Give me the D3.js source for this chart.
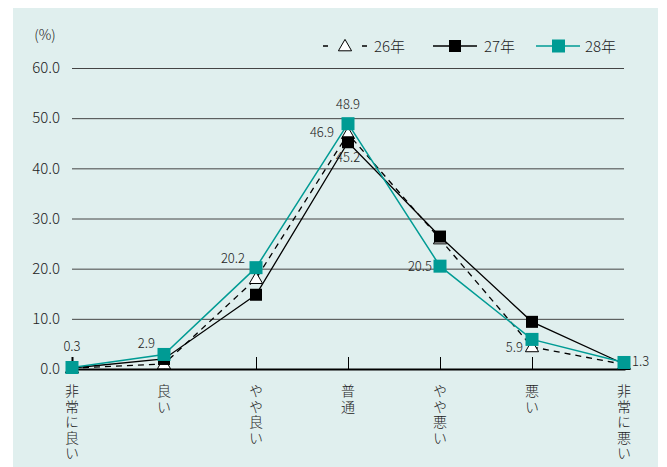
<!DOCTYPE html>
<html>
<head>
<meta charset="utf-8">
<style>
  body { margin: 0; background: #fff; }
  text { font-family: "Noto Sans CJK JP", "Noto Sans", sans-serif; fill: #222; }
</style>
</head>
<body>
<div id="chart"></div>
<script src="https://d3js.org/d3.v7.min.js"></script>
<script>
var categories = ["非常に良い", "良い", "やや良い", "普通", "やや悪い", "悪い", "非常に悪い"];
var yTicks = [0, 10, 20, 30, 40, 50, 60];
var seriesNames = ["26年", "27年", "28年"];
var values26 = [0.2, 1.0, 18.0, 46.9, 25.9, 4.4, 0.9];
var values27 = [0.2, 2.0, 14.8, 45.2, 26.4, 9.4, 1.0];
var values28 = [0.3, 2.9, 20.2, 48.9, 20.5, 5.9, 1.3];

var teal = "#009b94";

var svg = d3.select("#chart")
    .append("svg")
    .attr("width", 667)
    .attr("height", 467);

svg.append("rect")
    .attr("x", 13).attr("y", 8)
    .attr("width", 645).attr("height", 459)
    .attr("fill", "#e0efee");

var x = d3.scalePoint().domain(categories).range([72, 624]);
var y = d3.scaleLinear().domain([0, 60]).range([369, 68]);

// grid + y labels
var yAxis = svg.append("g")
    .attr("transform", "translate(72,0)")
    .call(d3.axisLeft(y).tickValues(yTicks).tickSize(-552).tickPadding(12).tickFormat(d3.format(".1f")));
yAxis.select(".domain").remove();
yAxis.selectAll(".tick line").attr("stroke", "#444").attr("stroke-width", 1);
yAxis.selectAll(".tick text").style("font-size", "15px").style("font-weight", 300).attr("fill", "#222");

svg.append("text")
    .attr("x", 45).attr("y", 40)
    .attr("text-anchor", "middle")
    .style("font-size", "14px")
    .style("font-weight", 300)
    .text("(%)");

// x axis
var xAxis = svg.append("g")
    .attr("transform", "translate(0,369)")
    .call(d3.axisBottom(x).tickSize(-12).tickFormat(""));
xAxis.select(".domain").attr("stroke", "#000").attr("stroke-width", 2);
xAxis.selectAll(".tick line").attr("stroke", "#000");

svg.selectAll(".xlab")
    .data(categories)
    .enter()
    .append("text")
    .attr("class", "xlab")
    .attr("x", function(d) { return x(d); })
    .attr("y", 384)
    .attr("writing-mode", "vertical-rl")
    .style("text-orientation", "upright")
    .style("letter-spacing", "1.5px")
    .style("font-size", "14px")
    .style("font-weight", 300)
    .text(function(d) { return d; });

var line = d3.line()
    .x(function(d, i) { return x(categories[i]); })
    .y(function(d) { return y(d); });

svg.append("path").datum(values26)
    .attr("d", line).attr("fill", "none")
    .attr("stroke", "#000").attr("stroke-width", 1.3)
    .attr("stroke-dasharray", "6,5");
svg.append("path").datum(values27)
    .attr("d", line).attr("fill", "none")
    .attr("stroke", "#000").attr("stroke-width", 1.3);
svg.append("path").datum(values28)
    .attr("d", line).attr("fill", "none")
    .attr("stroke", teal).attr("stroke-width", 1.5);

// data labels
var labels = [
    { v: values28, i: 0, dx: 0, dy: -16, a: "middle" },
    { v: values28, i: 1, dx: -9, dy: -6, a: "end" },
    { v: values28, i: 2, dx: -11, dy: -5, a: "end" },
    { v: values28, i: 3, dx: 0, dy: -15, a: "middle" },
    { v: values26, i: 3, dx: -14, dy: 3, a: "end" },
    { v: values27, i: 3, dx: -12, dy: 20, a: "start" },
    { v: values28, i: 4, dx: -8, dy: 5, a: "end" },
    { v: values28, i: 5, dx: -9, dy: 13, a: "end" },
    { v: values28, i: 6, dx: 8, dy: 4, a: "start" }
];
svg.selectAll(".dlab")
    .data(labels)
    .enter()
    .append("text")
    .attr("class", "dlab")
    .attr("x", function(d) { return x(categories[d.i]) + d.dx; })
    .attr("y", function(d) { return y(d.v[d.i]) + d.dy; })
    .attr("text-anchor", function(d) { return d.a; })
    .style("font-size", "13px")
    .style("font-weight", 300)
    .attr("fill", "#333")
    .text(function(d) { return d.v[d.i].toFixed(1); });

var tri = d3.symbol().type(d3.symbolTriangle).size(75);

svg.selectAll(".m26")
    .data(values26)
    .enter()
    .append("path")
    .attr("class", "m26")
    .attr("d", tri)
    .attr("transform", function(d, i) { return "translate(" + x(categories[i]) + "," + (y(d) + 1) + ")"; })
    .attr("fill", "#fff").attr("stroke", "#000").attr("stroke-width", 1);

svg.selectAll(".m27")
    .data(values27)
    .enter()
    .append("rect")
    .attr("class", "m27")
    .attr("x", function(d, i) { return x(categories[i]) - 6; })
    .attr("y", function(d) { return y(d) - 6; })
    .attr("width", 12).attr("height", 12)
    .attr("fill", "#000");

svg.selectAll(".m28")
    .data(values28)
    .enter()
    .append("rect")
    .attr("class", "m28")
    .attr("x", function(d, i) { return x(categories[i]) - 6.5; })
    .attr("y", function(d) { return y(d) - 6.5; })
    .attr("width", 13).attr("height", 13)
    .attr("fill", teal);

// legend
var lg = svg.append("g").attr("transform", "translate(0,46)");
lg.append("line").attr("x1", 323).attr("x2", 367)
    .attr("stroke", "#000").attr("stroke-width", 1.3).attr("stroke-dasharray", "5,34");
lg.append("path").attr("d", tri).attr("transform", "translate(345,1)")
    .attr("fill", "#fff").attr("stroke", "#000");
lg.append("line").attr("x1", 433).attr("x2", 477)
    .attr("stroke", "#000").attr("stroke-width", 1.3);
lg.append("rect").attr("x", 449).attr("y", -6).attr("width", 12).attr("height", 12).attr("fill", "#000");
lg.append("line").attr("x1", 536).attr("x2", 580)
    .attr("stroke", teal).attr("stroke-width", 1.5);
lg.append("rect").attr("x", 552).attr("y", -6.5).attr("width", 13).attr("height", 13).attr("fill", teal);
var lx = [374, 484, 585];
lg.selectAll(".lt")
    .data(seriesNames)
    .enter()
    .append("text")
    .attr("class", "lt")
    .attr("x", function(d, i) { return lx[i]; })
    .attr("y", 5.5)
    .style("font-size", "15px")
    .style("font-weight", 300)
    .text(function(d) { return d; });
</script>
</body>
</html>
